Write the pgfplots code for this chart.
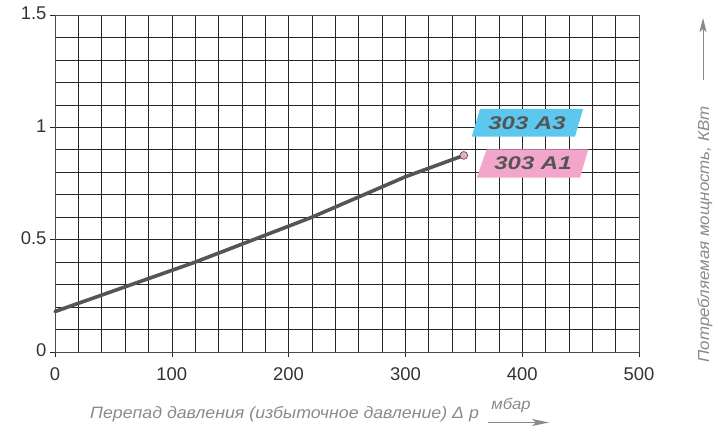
\documentclass[border=0pt]{standalone}
\usepackage{fontspec}
\setmainfont{Liberation Sans}
\newfontfamily\lblfont{Liberation Sans}[FakeStretch=1.08]
\newfontfamily\ylblfont{Liberation Sans}[FakeStretch=1.06]
\newfontfamily\legfont{Liberation Sans}[FakeStretch=1.3]
\usepackage{pgfplots}
\pgfplotsset{compat=1.18}
\usetikzlibrary{arrows.meta}
\definecolor{lbl}{HTML}{8A8A8A}
\definecolor{ticktxt}{HTML}{333333}
\definecolor{curve}{HTML}{555555}
\definecolor{cyanbox}{HTML}{5CC8F0}
\definecolor{pinkbox}{HTML}{F2A6CB}
\begin{document}
\begin{tikzpicture}[x=1bp,y=1bp]
\path[use as bounding box] (-55,-87) rectangle (663,352);
\begin{axis}[at={(0,0)}, anchor=south west, scale only axis, width=584bp, height=337bp,
  xmin=0, xmax=500, ymin=0, ymax=1.5,
  xtick={0,100,...,500}, ytick={0,0.5,1,1.5},
  minor x tick num=4, minor y tick num=4,
  grid=both,
  major grid style={black!85, line width=0.6pt},
  minor grid style={black!85, line width=0.6pt},
  axis line style={black!70, line width=0.8pt},
  tick align=outside, tick pos=left, major tick length=5bp, minor tick length=0pt,
  tick style={black!85, line width=0.6pt},
  tick label style={font=\fontsize{18.5}{20}\selectfont, text=ticktxt},
  xticklabel style={yshift=-7bp},
  yticklabel style={yshift=1.5bp},
  /pgf/number format/assume math mode=true,
  clip=false,
]
\addplot[curve, line width=3.6pt, line cap=round] coordinates {(0,0.18)(60,0.29)(120,0.40)(220,0.60)(300,0.78)(350,0.875)};
\addplot[only marks, mark=*, mark size=3.9pt, mark options={fill=pinkbox, draw=curve, line width=0.7pt}] coordinates {(350,0.875)};
\end{axis}
% legend boxes
\fill[cyanbox] (416.7,215.3) -- (520,215.3) -- (528,243) -- (425,243) -- cycle;
\fill[pinkbox] (421.7,174.3) -- (525,174.3) -- (533.3,202.7) -- (431.7,202.7) -- cycle;
\node[text=curve, font=\legfont\bfseries\itshape\fontsize{18.5}{20}\selectfont, inner sep=0] at (472,229) {303 A3};
\node[text=curve, font=\legfont\bfseries\itshape\fontsize{18.5}{20}\selectfont, inner sep=0] at (478,188.5) {303 A1};
% y label
\node[rotate=90, anchor=base, text=lbl, font=\ylblfont\itshape\fontsize{16}{18}\selectfont, inner sep=0] at (654,117.5) {Потребляемая мощность, КВт};
\draw[lbl, line width=1pt, -{Stealth[length=14bp,width=7bp,inset=3bp]}] (648,272) -- (648,334);
% x label
\node[anchor=base west, text=lbl, font=\lblfont\itshape\fontsize{16.5}{18}\selectfont, inner sep=0] at (35,-66.5) {Перепад давления (избыточное давление) Δ p};
\node[anchor=base, text=lbl, font=\lblfont\itshape\fontsize{15.5}{17}\selectfont, inner sep=0] at (456,-58) {мбар};
\draw[lbl, line width=1pt, -{Stealth[length=17bp,width=7bp,inset=4bp]}] (433,-70.5) -- (494,-70.5);
\end{tikzpicture}
\end{document}
